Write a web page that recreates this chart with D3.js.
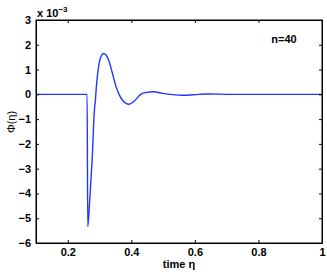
<!DOCTYPE html>
<html>
<head>
<meta charset="utf-8">
<script src="https://cdn.jsdelivr.net/npm/d3@7"></script>
<style>
body { margin: 0; background: #fff; }
svg { display: block; font-family: "Liberation Sans", Arial, sans-serif; }
.tick text { font-size: 11px; font-weight: bold; fill: #000; }
</style>
</head>
<body>
<div id="chart"></div>
<script>
// values, phi in units of 1e-3
var eta = [0.1, 0.2609, 0.2628, 0.2691, 0.2766, 0.2838, 0.2870, 0.2901, 0.2973, 0.3049, 0.3130,
           0.3278, 0.3403, 0.3513, 0.3614, 0.3717, 0.3928, 0.4094, 0.4292, 0.4471, 0.4713,
           0.4942, 0.5234, 0.5655, 0.6126, 0.6440, 0.7108, 1.0];
var phi = [0, 0, -5.34, -4.26, -2.65, -0.63, -0.23, 0.33, 1.15, 1.54, 1.65,
           1.41, 0.86, 0.33, 0, -0.23, -0.40, -0.27, 0, 0.08, 0.105,
           0.05, 0, -0.04, 0, 0.015, 0, 0];
var xTicks = [0.2, 0.4, 0.6, 0.8, 1];
var yTicks = [3, 2, 1, 0, -1, -2, -3, -4, -5, -6];
var label = "n=40";

var width = 327, height = 275;
var m = {left: 36, top: 20, right: 5, bottom: 32};
var w = width - m.left - m.right, h = height - m.top - m.bottom;

var svg = d3.select("#chart").append("svg").attr("width", width).attr("height", height);
var g = svg.append("g").attr("transform", "translate(" + m.left + "," + m.top + ")");

var x = d3.scaleLinear().domain([0.1, 1]).range([0, w]);
var y = d3.scaleLinear().domain([-6, 3]).range([h, 0]);

var data = eta.map(function(d, i) { return [d, phi[i]]; });

var line = d3.line()
  .x(function(d) { return x(d[0]); })
  .y(function(d) { return y(d[1]); })
  .curve(d3.curveMonotoneX);

g.append("path").datum(data)
  .attr("d", line)
  .attr("fill", "none")
  .attr("stroke", "#2236ff")
  .attr("stroke-width", 1.4);

var fmt = function(d) { return d3.format("")(d).replace("-", "\u2212"); };

// bottom / left axes with inward ticks, plus mirrored ticks on top / right
g.append("g").attr("transform", "translate(0," + h + ")")
  .call(d3.axisBottom(x).tickValues(xTicks).tickSize(-3).tickPadding(5).tickFormat(d3.format("")));
g.append("g")
  .call(d3.axisLeft(y).tickValues(yTicks).tickSize(-3).tickPadding(5).tickFormat(fmt));
g.append("g").call(d3.axisTop(x).tickValues(xTicks).tickSize(-3).tickFormat(""));
g.append("g").attr("transform", "translate(" + w + ",0)")
  .call(d3.axisRight(y).tickValues(yTicks).tickSize(-3).tickFormat(""));

g.selectAll(".domain").attr("stroke", "#000");
g.selectAll(".tick line").attr("stroke", "#000");
g.append("rect").attr("width", w).attr("height", h)
  .attr("fill", "none").attr("stroke", "#000").attr("stroke-width", 1);

// exponent label
var ex = svg.append("text").attr("x", m.left + 1).attr("y", m.top - 3)
  .attr("font-size", 11).attr("font-weight", "bold");
ex.append("tspan").text("x 10");
ex.append("tspan").attr("dy", -5).attr("font-size", 8).text("\u22123");

g.append("text").attr("x", w - 38).attr("y", 23)
  .attr("font-size", 11).attr("font-weight", "bold").attr("text-anchor", "middle")
  .text(label);

svg.append("text").attr("x", m.left + w / 2).attr("y", 268)
  .attr("text-anchor", "middle").attr("font-size", 11).attr("font-weight", "bold")
  .text("time \u03b7");

svg.append("text").attr("transform", "translate(15,122) rotate(-90)")
  .attr("text-anchor", "middle").attr("font-size", 11)
  .text("\u03a6(\u03b7)");
</script>
</body>
</html>
